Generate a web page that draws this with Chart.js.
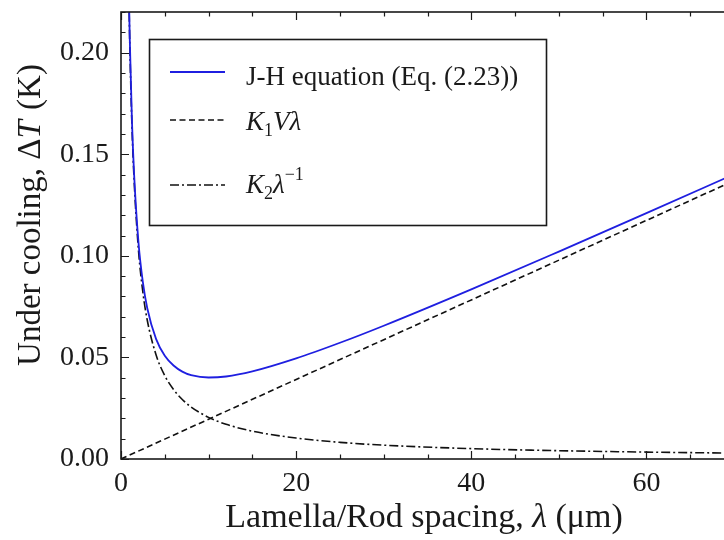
<!DOCTYPE html>
<html>
<head>
<meta charset="utf-8">
<script src="https://cdn.jsdelivr.net/npm/chart.js@4.4.0/dist/chart.umd.min.js"></script>
<style>
	html, body { margin: 0; padding: 0; background: #fff; overflow: hidden; }
	#wrap { width: 740px; height: 540px; }
</style>
</head>
<body>
<div id="wrap"><canvas id="jhChart" width="740" height="540"></canvas></div>
<script>
// ================================ [ Data ] ================================

// lamella / rod spacing (um)
const spacing = [0.9, 1, 1.25, 1.5, 2, 2.5, 3, 4, 5, 6, 7, 8, 10, 12, 15, 20, 25, 30, 40, 50, 60, 70];

// J-H equation, total under cooling (K)
const jhValues = [0.2298, 0.2070, 0.1665, 0.1399, 0.1064, 0.0869, 0.0742, 0.0591, 0.0508, 0.0460, 0.0430,
	0.0413, 0.0401, 0.0406, 0.0431, 0.0495, 0.0572, 0.0656, 0.0835, 0.1021, 0.1210, 0.1401];

// K2 / lambda term (K)
const k2Values = [0.2280, 0.2050, 0.1640, 0.1370, 0.1025, 0.0820, 0.0683, 0.0513, 0.0410, 0.0342, 0.0293,
	0.0256, 0.0205, 0.0171, 0.0137, 0.0103, 0.0082, 0.0068, 0.0051, 0.0041, 0.0034, 0.0029];

// K1 V lambda term (straight line)
const k1Spacing = [0, 70];
const k1Values = [0, 0.137];

// axis ranges and ticks
const xRange = [0, 70];
const yRange = [0, 0.22];
const xMajorStep = 20, xMinorStep = 5;
const yMajorStep = 0.05, yMinorStep = 0.01;

const SERIF = "'Liberation Serif', 'Times New Roman', serif";
const INK = "#1a1a1a";

const toPoints = (xs, ys) => xs.map((x, i) => ({ x: x, y: ys[i] }));

// ================================ [ Helpers ] ================================

// draw a run of text pieces (roman / italic / sub / sup) on one line
const drawRuns = (ctx, runs, x, y, align) => {
	let total = 0;
	runs.forEach(r => {
		ctx.font = `${r.it ? "italic " : ""}${r.size}px ${SERIF}`;
		r.w = ctx.measureText(r.t).width;
		total += r.w + (r.gap || 0);
	});
	let cx = align === "center" ? x - total / 2 : x;
	runs.forEach(r => {
		ctx.font = `${r.it ? "italic " : ""}${r.size}px ${SERIF}`;
		ctx.fillText(r.t, cx, y + (r.dy || 0));
		cx += r.w + (r.gap || 0);
	});
}

// keep the plot area fixed: no extra room for overhanging tick labels
const fixPadding = (scale) => {
	scale.paddingTop = 0;
	scale.paddingBottom = 0;
	scale.paddingLeft = 0;
	scale.paddingRight = 0;
}

// frame, inward ticks on all four sides, axis titles and legend box
const decorPlugin = {
	id: "decor",
	afterDatasetsDraw(chart) {
		const ctx = chart.ctx;
		const area = chart.chartArea;
		const xs = chart.scales.x;
		const ys = chart.scales.y;

		ctx.save();
		ctx.strokeStyle = INK;

		// ticks
		ctx.lineWidth = 1.2;
		ctx.beginPath();
		for (let i = 0; i * xMinorStep <= xRange[1]; i++) {
			const v = i * xMinorStep;
			const len = (v % xMajorStep === 0) ? 8 : 4.5;
			const px = Math.round(xs.getPixelForValue(v)) + 0.5;
			ctx.moveTo(px, area.bottom); ctx.lineTo(px, area.bottom - len);
			ctx.moveTo(px, area.top); ctx.lineTo(px, area.top + len);
		}
		const yCount = Math.round(yRange[1] / yMinorStep);
		const perMajor = Math.round(yMajorStep / yMinorStep);
		for (let i = 0; i <= yCount; i++) {
			const len = (i % perMajor === 0) ? 8 : 4.5;
			const py = Math.round(ys.getPixelForValue(i * yMinorStep)) + 0.5;
			ctx.moveTo(area.left, py); ctx.lineTo(area.left + len, py);
			ctx.moveTo(area.right, py); ctx.lineTo(area.right - len, py);
		}
		ctx.stroke();

		// frame
		ctx.lineWidth = 1.6;
		ctx.strokeRect(area.left, area.top, area.right - area.left, area.bottom - area.top);
		ctx.restore();
	},
	afterDraw(chart) {
		const ctx = chart.ctx;
		const sets = chart.data.datasets;
		ctx.save();
		ctx.fillStyle = INK;
		ctx.textBaseline = "alphabetic";
		ctx.textAlign = "left";

		// x axis title
		drawRuns(ctx, [
			{ t: "Lamella/Rod spacing, ", size: 34 },
			{ t: "\u03bb", it: true, size: 34 },
			{ t: " (\u03bcm)", size: 34 }
		], 424, 527, "center");

		// y axis title
		ctx.save();
		ctx.translate(40, 215);
		ctx.rotate(-Math.PI / 2);
		drawRuns(ctx, [
			{ t: "Under cooling, \u0394", size: 33 },
			{ t: "T", it: true, size: 33, gap: 2 },
			{ t: " (K)", size: 33 }
		], 0, 0, "center");
		ctx.restore();

		// legend box
		const box = { left: 149.5, top: 39.5, right: 546.5, bottom: 225.5 };
		ctx.fillStyle = "#fff";
		ctx.fillRect(box.left, box.top, box.right - box.left, box.bottom - box.top);
		ctx.strokeStyle = INK;
		ctx.lineWidth = 1.6;
		ctx.strokeRect(box.left, box.top, box.right - box.left, box.bottom - box.top);

		const rows = [
			{ y: 72, base: 85, runs: [{ t: "J-H equation (Eq. (2.23))", size: 27 }] },
			{ y: 120, base: 130, runs: [
				{ t: "K", it: true, size: 27 },
				{ t: "1", size: 18, dy: 6 },
				{ t: "V\u03bb", it: true, size: 27 }
			] },
			{ y: 185, base: 193, runs: [
				{ t: "K", it: true, size: 27 },
				{ t: "2", size: 18, dy: 6 },
				{ t: "\u03bb", it: true, size: 27 },
				{ t: "\u22121", size: 18, dy: -13 }
			] }
		];
		rows.forEach((row, i) => {
			const ds = sets[i];
			ctx.strokeStyle = ds.borderColor;
			ctx.lineWidth = ds.borderWidth;
			ctx.setLineDash(ds.borderDash || []);
			ctx.beginPath();
			ctx.moveTo(170, row.y); ctx.lineTo(225, row.y);
			ctx.stroke();
			ctx.setLineDash([]);
			ctx.fillStyle = INK;
			drawRuns(ctx, row.runs, 246, row.base, "left");
		});
		ctx.restore();
	}
};

// ================================ [ Chart ] ================================

const getSpacingChart = () => {
	const canvas = document.getElementById("jhChart");
	new Chart(canvas, {
		type: "scatter",
		data: {
			datasets: [{
				label: "J-H equation (Eq. (2.23))",
				data: toPoints(spacing, jhValues),
				borderColor: "#1f1fe0",
				borderWidth: 1.8,
				cubicInterpolationMode: "monotone"
			}, {
				label: "K1 V lambda",
				data: toPoints(k1Spacing, k1Values),
				borderColor: "#111",
				borderWidth: 1.6,
				borderDash: [6, 3.5]
			}, {
				label: "K2 lambda^-1",
				data: toPoints(spacing, k2Values),
				borderColor: "#111",
				borderWidth: 1.6,
				borderDash: [9, 3, 2, 3],
				cubicInterpolationMode: "monotone"
			}]
		},
		options: {
			responsive: false,
			animation: false,
			showLine: true,
			elements: { point: { radius: 0 }, line: { fill: false } },
			layout: { autoPadding: false, padding: { top: 12, right: 6, left: 0, bottom: 0 } },
			plugins: { legend: { display: false }, tooltip: { enabled: false } },
			scales: {
				x: {
					type: "linear",
					min: xRange[0],
					max: xRange[1],
					grid: { display: false, drawTicks: false },
					border: { display: false },
					ticks: {
						stepSize: xMajorStep,
						includeBounds: false,
						padding: 8,
						color: INK,
						font: { family: SERIF, size: 28 }
					},
					afterFit: (scale) => { scale.height = 81; fixPadding(scale); }
				},
				y: {
					min: yRange[0],
					max: yRange[1],
					grid: { display: false, drawTicks: false },
					border: { display: false },
					ticks: {
						stepSize: yMajorStep,
						includeBounds: false,
						padding: 12,
						color: INK,
						font: { family: SERIF, size: 28 },
						callback: (v) => v.toFixed(2)
					},
					afterFit: (scale) => { scale.width = 121; fixPadding(scale); }
				}
			}
		},
		plugins: [decorPlugin]
	});
}

getSpacingChart();
</script>
</body>
</html>
